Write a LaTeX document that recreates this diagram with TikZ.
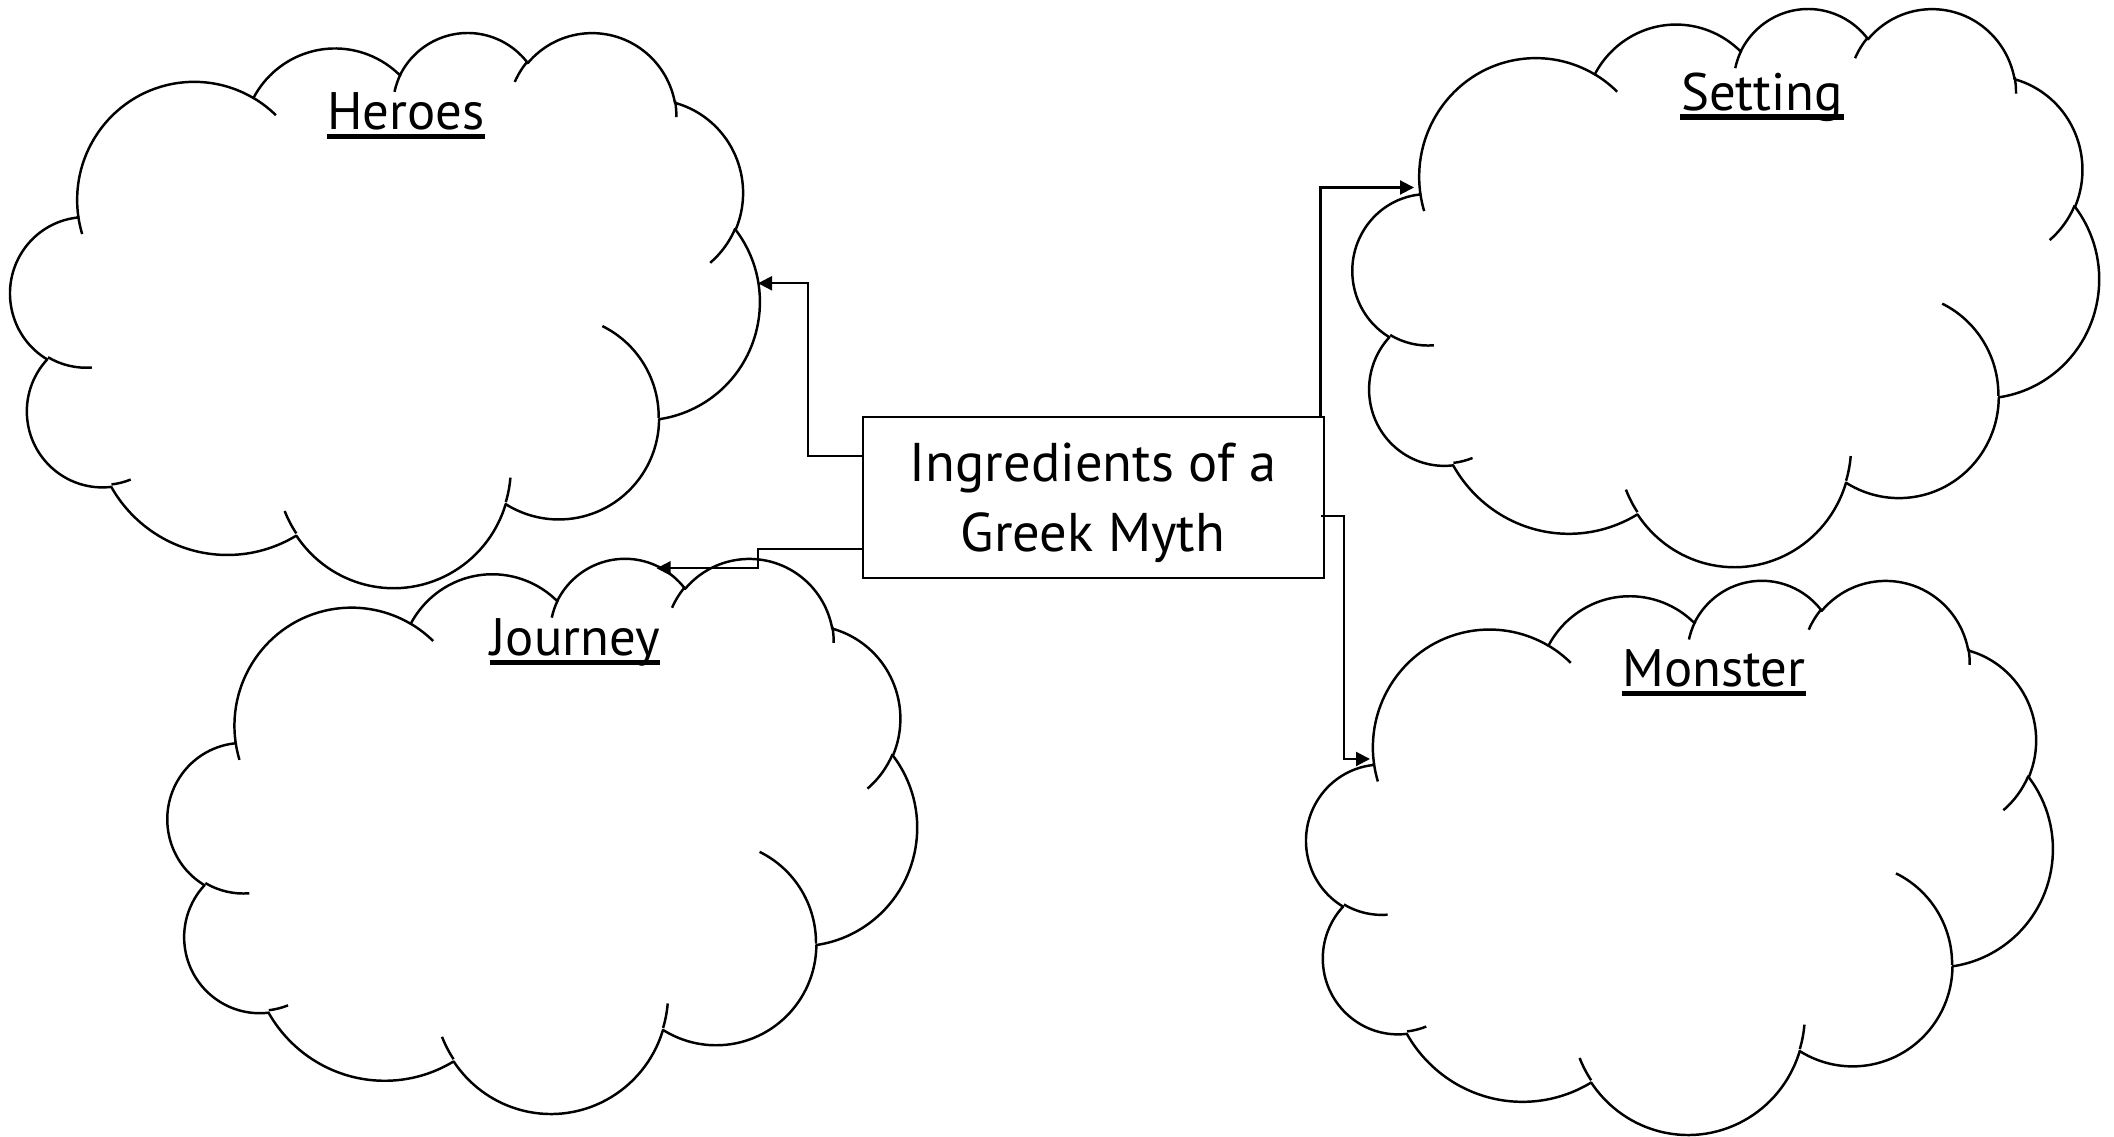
\documentclass[tikz,border=0pt]{standalone}
\usepackage{fontspec}
\setmainfont{PT Sans}
\usetikzlibrary{arrows.meta}
\newcommand\cloudarc[4]{arc[x radius=#1, y radius=#2, start angle={atan2((#1)*sin(#3),(#2)*cos(#3))}, delta angle={mod(atan2((#1)*sin((#3)+(#4)),(#2)*cos((#3)+(#4)))-atan2((#1)*sin(#3),(#2)*cos(#3))+720,360)}]}
\newcommand\drawcloud[4]{%
 \begin{scope}[shift={(#1,#2)}, xscale=#3/43.2, yscale=#4/43.2]
 \draw[cloudline] (3.9,14.37) \cloudarc{6.753}{9.19}{-190.4875}{123.7805}
   \cloudarc{5.333}{7.267}{-144.1024}{89.9452}
   \cloudarc{4.365}{5.945}{-145.8079}{99.7230}
   \cloudarc{4.857}{6.595}{-130.9861}{117.2417}
   \cloudarc{5.333}{7.273}{-78.7089}{109.0269}
   \cloudarc{6.775}{9.22}{-46.2673}{130.2690}
   \cloudarc{5.785}{7.867}{0.6250}{114.0333}
   \cloudarc{6.752}{9.215}{22.4516}{115.1726}
   \cloudarc{7.72}{10.543}{66.2426}{75.7110}
   \cloudarc{4.36}{5.918}{-274.9421}{146.7356}
   \cloudarc{4.345}{5.945}{-246.8285}{152.5189} -- cycle;
 \draw[cloudline] (4.693,26.177) \cloudarc{4.345}{5.945}{86.7420}{26.4295};
 \draw[cloudline] (6.928,34.899) \cloudarc{4.36}{5.918}{73.6105}{11.4475};
 \draw[cloudline] (16.478,39.09) \cloudarc{6.752}{9.215}{137.6242}{14.0811};
 \draw[cloudline] (28.827,34.751) \cloudarc{6.752}{9.215}{6.4533}{15.9984};
 \draw[cloudline] (34.129,22.954) \cloudarc{5.785}{7.867}{-70.2924}{70.9174};
 \draw[cloudline] (41.798,15.354) \cloudarc{5.333}{7.273}{30.3180}{27.7515};
 \draw[cloudline] (38.324,5.426) \cloudarc{4.857}{6.595}{-13.7443}{14.8589};
 \draw[cloudline] (29.078,3.952) \cloudarc{4.857}{6.595}{-149.1815}{18.1954};
 \draw[cloudline] (22.141,4.72) \cloudarc{4.365}{5.945}{-163.4943}{17.6864};
 \draw[cloudline] (14.0,5.192) \cloudarc{6.753}{9.19}{-66.7070}{12.3194};
 \draw[cloudline] (4.127,15.789) \cloudarc{6.753}{9.19}{157.6544}{11.8582};
 \end{scope}}
\begin{document}
\begin{tikzpicture}[x=0.01cm, y=-0.01cm,
  cloudline/.style={line width=0.7pt, line join=round},
  conn/.style={line width=0.6pt, -{Triangle[length=1.4mm,width=1.4mm]}},
  corebox/.style={draw, line width=0.55pt, minimum width=4.607cm, minimum height=1.61cm, inner sep=0pt},
  txt/.style={inner sep=0pt, font=\fontsize{15.5}{19.9}\selectfont},
  title/.style={inner sep=0pt, font=\fontsize{15}{17}\selectfont},
  uline/.style={line width=1.5pt}]
\useasboundingbox (0,0) rectangle (2114,1137);
\fill[white] (0,0) rectangle (2114,1137);
% clouds
\drawcloud{10.6}{31.2}{749}{555}
\drawcloud{167.9}{557}{749}{555}
\drawcloud{1352.9}{7.2}{746}{558}
\drawcloud{1306.6}{579}{746}{554}
% titles
\node[title, anchor=base] (heroes) at (406,130) {Heroes};
\node[title, anchor=base] (journey) at (575,656) {Journey};
\node[title, anchor=base] (setting) at (1762,110.5) {Setting};
\node[title, anchor=base] (monster) at (1714,687) {Monster};
\foreach \t in {heroes,journey,setting,monster}
  \draw[uline] ([yshift=-0.65mm]\t.base west) -- ([yshift=-0.65mm]\t.base east);
% central box
\node[corebox] (core) at (1093.4,497.2) {};
\node[txt, anchor=base] (line1) at (1093,481.7) {Ingredients of a};
\node[txt, anchor=base] (line2) at (1093,551.7) {Greek Myth};
% connector ends
\coordinate (hA) at (863,455.7);
\coordinate (hT) at (758,283.3);
\coordinate (jA) at (863,549);
\coordinate (jT) at (656.6,568.3);
\coordinate (sA) at (1229,416.7);
\coordinate (sT) at (1414,187.5);
\coordinate (mA) at (1320.5,515.7);
\coordinate (mT) at (1370,759);
\draw[conn] (hA) -- ++(-55,0) |- (hT);
\draw[conn] (jA) -- ++(-105,0) |- (jT);
\draw[conn] (sA) -- ++(91.5,0) |- (sT);
\draw[conn] (mA) -- ++(23.25,0) |- (mT);
\end{tikzpicture}
\end{document}
